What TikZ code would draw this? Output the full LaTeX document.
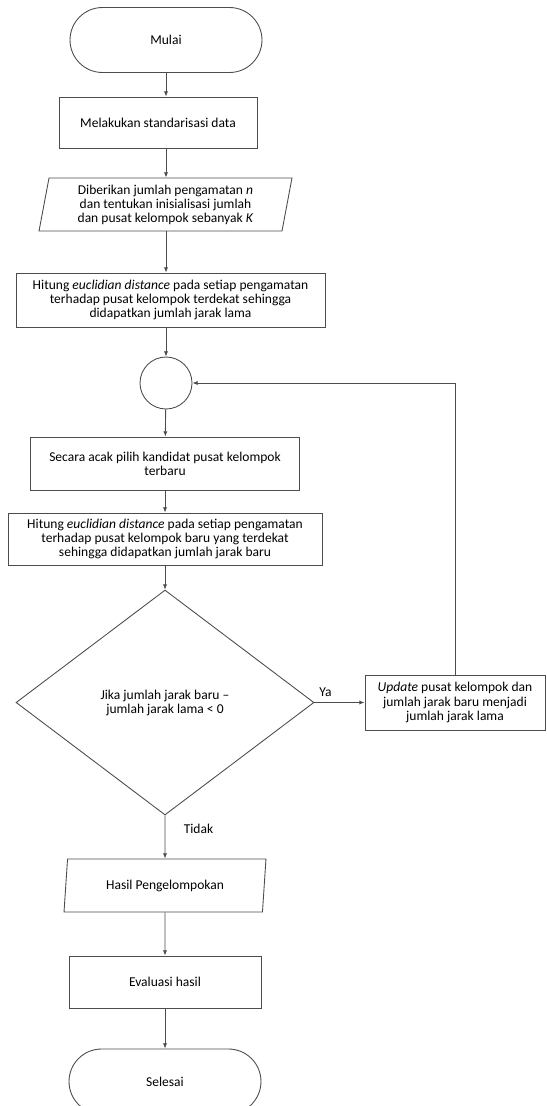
\documentclass[tikz,border=0pt]{standalone}
\usepackage{fontspec}
\setmainfont{Carlito}
\usetikzlibrary{shapes.geometric,arrows.meta}
\tikzset{
  dasar/.style={draw=black!70,line width=0.5pt,text=black,align=center,inner sep=1pt,font=\fontsize{7.7}{8}\selectfont},
  terminal/.style={dasar,rectangle,rounded corners=0.65cm,minimum width=3.84cm,minimum height=1.3cm},
  proses/.style={dasar,rectangle,minimum height=1.05cm},
  masukan/.style={dasar,trapezium,trapezium left angle=77,trapezium right angle=103,trapezium stretches body,minimum height=1.06cm},
  keputusan/.style={dasar,diamond,minimum width=5.96cm,minimum height=4.5cm,inner sep=0pt},
  penghubung/.style={dasar,circle,minimum size=1.04cm},
  panah/.style={draw=black!70,line width=0.5pt,-{Latex[length=3pt,width=2.4pt]}},
  label/.style={text=black,font=\fontsize{7.7}{8}\selectfont}
}
\begin{document}
\begin{tikzpicture}[x=0.02cm,y=-0.02cm]
    \useasboundingbox (0,0) rectangle (547,1106);
    % langkah awal
    \node[terminal] (mulai) at (166,40) {Mulai};
    \node[proses,minimum width=3.96cm,minimum height=1.02cm] (standar) at (158,122.5) {Melakukan standarisasi data};
    \node[masukan,minimum width=5.06cm] (masukan) at (165.5,204.5) {Diberikan jumlah pengamatan \textit{n}\\dan tentukan inisialisasi jumlah\\dan pusat kelompok sebanyak \textit{K}};
    \node[proses,minimum width=6.18cm,minimum height=1.08cm] (jaraklama) at (170.5,300) {Hitung \textit{euclidian distance} pada setiap pengamatan\\terhadap pusat kelompok terdekat sehingga\\didapatkan jumlah jarak lama};
    % perulangan
    \node[penghubung] (ulang) at (166,383) {};
    \node[proses,minimum width=5.38cm,minimum height=1.06cm] (acak) at (165,463.5) {Secara acak pilih kandidat pusat kelompok\\terbaru};
    \node[proses,minimum width=6.28cm,minimum height=1.04cm] (jarakbaru) at (165,539) {Hitung \textit{euclidian distance} pada setiap pengamatan\\terhadap pusat kelompok baru yang terdekat\\sehingga didapatkan jumlah jarak baru};
    \node[keputusan] (cek) at (165,702.5) {Jika jumlah jarak baru –\\jumlah jarak lama < 0};
    \node[proses,minimum width=3.6cm,minimum height=1.1cm] (perbarui) at (455,702.5) {\textit{Update} pusat kelompok dan\\jumlah jarak baru menjadi\\jumlah jarak lama};
    % hasil
    \node[masukan,minimum width=4.04cm] (hasil) at (165,885.5) {Hasil Pengelompokan};
    \node[proses,minimum width=3.84cm,minimum height=1.04cm] (evaluasi) at (165,982) {Evaluasi hasil};
    \node[terminal] (selesai) at (165,1081.5) {Selesai};
    % panah
    \draw[panah] (mulai) -- (standar.north -| mulai);
    \draw[panah] (standar.south -| mulai) -- (masukan.north -| mulai);
    \draw[panah] (masukan.south -| mulai) -- (jaraklama.north -| mulai);
    \draw[panah] (jaraklama.south -| mulai) -- (ulang);
    \draw[panah] (ulang) -- (acak);
    \draw[panah] (acak) -- (jarakbaru);
    \draw[panah] (jarakbaru) -- (cek);
    \draw[panah] (cek.east) -- node[label,above,pos=0.22] {Ya} (perbarui.west);
    \draw[panah] (perbarui.north) |- (ulang.east);
    \draw[panah] (cek.south) -- node[label,pos=0.3,right=0.25cm] {Tidak} (hasil.north);
    \draw[panah] (hasil) -- (evaluasi);
    \draw[panah] (evaluasi) -- (selesai);
\end{tikzpicture}
\end{document}
